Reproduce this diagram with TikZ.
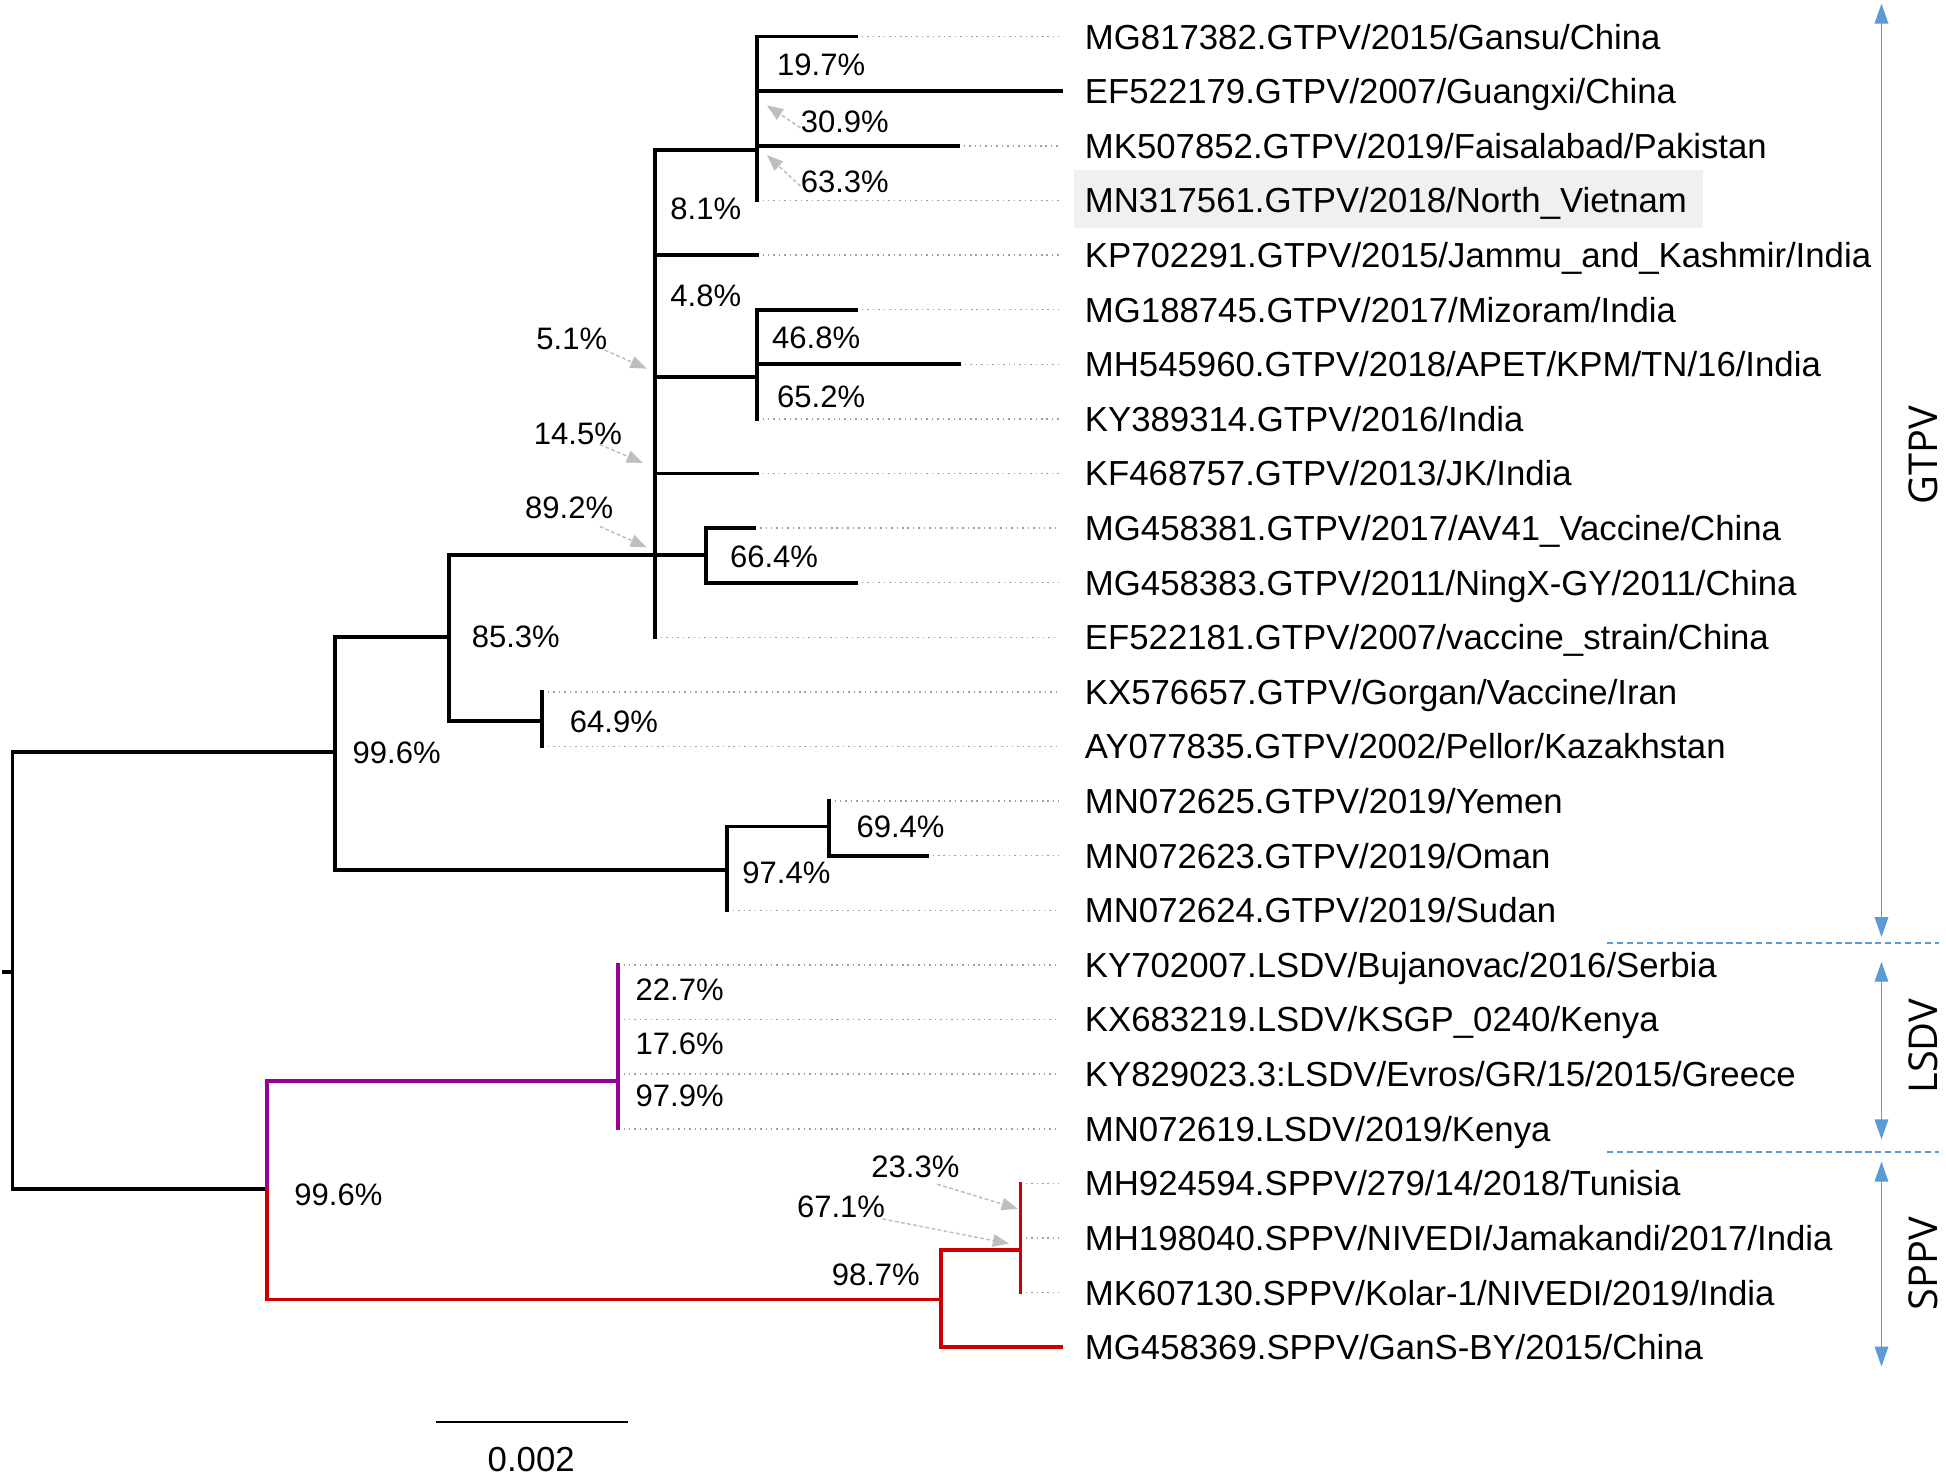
\documentclass[tikz,border=0pt]{standalone}
\usepackage{fontspec}
\setmainfont{Liberation Sans}
\newfontfamily\grpfont{Open Sans}
\usetikzlibrary{arrows.meta}
\definecolor{lsdvc}{RGB}{153,0,153}
\definecolor{sppvc}{RGB}{204,0,0}
\definecolor{grpblue}{RGB}{91,155,213}
\definecolor{hlgray}{RGB}{240,240,240}
\definecolor{bsgray}{RGB}{190,190,190}
\newcommand\leafrow[3]{%
  \node[leaf] (L#1) at (874,{29.5+44*#1}) {#3};
  \coordinate (T#1) at (#2,{29.5+44*#1});
  \draw[dotl] (T#1) -- ([xshift=-21pt]L#1.west);
}
\newcommand\leafsolid[2]{%
  \node[leaf] (L#1) at (874,{29.5+44*#1}) {#2};
}
\begin{document}
\begin{tikzpicture}[x=1pt,y=-1pt,
  br/.style={line width=3pt, line cap=rect, line join=miter},
  dotl/.style={draw=gray!75, line width=1.2pt, dash pattern=on 1.2pt off 3.2pt},
  leaf/.style={anchor=west, inner sep=0pt, font=\fontsize{28}{32}\selectfont, text height=20pt, text depth=0pt},
  bs/.style={anchor=west, inner sep=0pt, font=\fontsize{25}{29}\selectfont, text height=17.9pt, text depth=0pt},
  bsarr/.style={draw=bsgray, line width=1.2pt, dash pattern=on 3pt off 2pt, -{Triangle[length=13pt,width=10pt,fill=bsgray]}},
  grp/.style={draw=grpblue, line width=1pt, {Triangle[length=16pt,width=11pt]}-{Triangle[length=16pt,width=11pt]}},
  sepl/.style={draw=grpblue, line width=1.3pt, dash pattern=on 5pt off 3pt},
  grplab/.style={rotate=90, inner sep=0pt, text height=22pt, text depth=0pt, font=\grpfont\fontsize{32}{36}\selectfont},
  ]
\fill[white] (0,0) rectangle (1568,1189);
\useasboundingbox (0,0) rectangle (1568,1189);

% highlight
\fill[hlgray] (865,137) rectangle (1372,183.5);

% internal node coordinates
\coordinate (R0) at (3,783);
\coordinate (R1) at (10,783);
\coordinate (G) at (270,606);
\coordinate (E) at (362,513);
\coordinate (B) at (528,447);
\coordinate (A) at (610,121);
\coordinate (C) at (610,304);
\coordinate (D) at (569,447);
\coordinate (F) at (437,581);
\coordinate (H) at (586,701);
\coordinate (I) at (668,666);
\coordinate (J) at (215,958);
\coordinate (K) at (498,871);
\coordinate (Lc) at (758,1047);
\coordinate (M) at (822,1007);

% leaves
\leafrow{0}{690}{MG817382.GTPV/2015/Gansu/China}
\leafsolid{1}{EF522179.GTPV/2007/Guangxi/China}
\leafrow{2}{772}{MK507852.GTPV/2019/Faisalabad/Pakistan}
\leafrow{3}{610}{MN317561.GTPV/2018/North\_Vietnam}
\leafrow{4}{610}{KP702291.GTPV/2015/Jammu\_and\_Kashmir/India}
\leafrow{5}{690}{MG188745.GTPV/2017/Mizoram/India}
\leafrow{6}{773}{MH545960.GTPV/2018/APET/KPM/TN/16/India}
\leafrow{7}{610}{KY389314.GTPV/2016/India}
\leafrow{8}{610}{KF468757.GTPV/2013/JK/India}
\leafrow{9}{608}{MG458381.GTPV/2017/AV41\_Vaccine/China}
\leafrow{10}{690}{MG458383.GTPV/2011/NingX-GY/2011/China}
\leafrow{11}{528}{EF522181.GTPV/2007/vaccine\_strain/China}
\leafrow{12}{437}{KX576657.GTPV/Gorgan/Vaccine/Iran}
\leafrow{13}{437}{AY077835.GTPV/2002/Pellor/Kazakhstan}
\leafrow{14}{668}{MN072625.GTPV/2019/Yemen}
\leafrow{15}{747}{MN072623.GTPV/2019/Oman}
\leafrow{16}{586}{MN072624.GTPV/2019/Sudan}
\leafrow{17}{498}{KY702007.LSDV/Bujanovac/2016/Serbia}
\leafrow{18}{498}{KX683219.LSDV/KSGP\_0240/Kenya}
\leafrow{19}{498}{KY829023.3:LSDV/Evros/GR/15/2015/Greece}
\leafrow{20}{498}{MN072619.LSDV/2019/Kenya}
\leafrow{21}{822}{MH924594.SPPV/279/14/2018/Tunisia}
\leafrow{22}{822}{MH198040.SPPV/NIVEDI/Jamakandi/2017/India}
\leafrow{23}{822}{MK607130.SPPV/Kolar-1/NIVEDI/2019/India}
\leafsolid{24}{MG458369.SPPV/GanS-BY/2015/China}

% black branches
\draw[br] (R0) -- (R1);
\draw[br] (G) -- (R1 |- G) -- (R1 |- J) -- (J);
\draw[br] (E) -- (G |- E) -- (G |- H) -- (H);
\draw[br] (B) -- (E |- B) -- (E |- F) -- (F);
\draw[br] (F |- T12) -- (F |- T13);
\draw[br] (B |- A) -- (B |- T11);
\draw[br] (B |- A) -- (A);
\draw[br] (B |- T4) -- (T4);
\draw[br] (B |- C) -- (C);
\draw[br] (B |- T8) -- (T8);
\draw[br] (B) -- (D);
\draw[br] (A |- T0) -- (A |- T3);
\draw[br] (A |- T0) -- (T0);
\draw[br] (A |- L1) -- (855,73.5);
\draw[br] (A |- T2) -- (T2);
\draw[br] (C |- T5) -- (C |- T7);
\draw[br] (C |- T5) -- (T5);
\draw[br] (C |- T6) -- (T6);
\draw[br] (D |- T9) -- (D |- T10);
\draw[br] (D |- T9) -- (T9);
\draw[br] (D |- T10) -- (T10);
\draw[br] (H |- I) -- (I);
\draw[br] (H |- I) -- (H |- T16);
\draw[br] (I |- T14) -- (I |- T15);
\draw[br] (I |- T15) -- (T15);
% LSDV (purple)
\draw[br, lsdvc, line width=2.7pt] (J) -- (J |- K) -- (K);
\draw[br, lsdvc, line width=2.7pt] (K |- T17) -- (K |- T20);
% SPPV (red)
\draw[br, sppvc] (J) -- (J |- Lc) -- (Lc);
\draw[br, sppvc] (M) -- (Lc |- M) -- (Lc |- L24) -- (855,1085.5);
\draw[br, sppvc, line width=2.5pt] (M |- T21) -- (M |- T23);

% bootstrap labels
\node[bs] (p197) at (626,52) {19.7\%};
\node[bs] (p309) at (645,98) {30.9\%};
\node[bs] (p633) at (645,146) {63.3\%};
\node[bs] (p81) at (540,168) {8.1\%};
\node[bs] (p48) at (540,238) {4.8\%};
\node[bs] (p51) at (432,273) {5.1\%};
\node[bs] (p468) at (622,272) {46.8\%};
\node[bs] (p652) at (626,319) {65.2\%};
\node[bs] (p145) at (430,349) {14.5\%};
\node[bs] (p892) at (423,409) {89.2\%};
\node[bs] (p664) at (588,448) {66.4\%};
\node[bs] (p853) at (380,513) {85.3\%};
\node[bs] (p649) at (459,581) {64.9\%};
\node[bs] (p996a) at (284,606) {99.6\%};
\node[bs] (p694) at (690,666) {69.4\%};
\node[bs] (p974) at (598,703) {97.4\%};
\node[bs] (p227) at (512,797) {22.7\%};
\node[bs] (p176) at (512,841) {17.6\%};
\node[bs] (p979) at (512,883) {97.9\%};
\node[bs] (p996b) at (237,962) {99.6\%};
\node[bs] (p233) at (702,940) {23.3\%};
\node[bs] (p671) at (642,972) {67.1\%};
\node[bs] (p987) at (670,1027) {98.7\%};

% bootstrap pointer arrows
\coordinate (a309) at (618,85);
\coordinate (a633) at (618,125);
\coordinate (a51) at (521,297);
\coordinate (a145) at (518,373);
\coordinate (a892) at (521,441);
\coordinate (a233) at (820,974);
\coordinate (a671) at (813,1002);
\draw[bsarr] ([yshift=-5pt]p309.west) -- (a309);
\draw[bsarr] ([yshift=-4pt]p633.west) -- (a633);
\draw[bsarr] ([xshift=-2pt]p51.south east) -- (a51);
\draw[bsarr] ([xshift=-18pt]p145.south east) -- (a145);
\draw[bsarr] ([xshift=-11pt,yshift=-6pt]p892.south east) -- (a892);
\draw[bsarr] ([xshift=-18pt,yshift=-5pt]p233.south east) -- (a233);
\draw[bsarr] ([xshift=-2pt,yshift=-1pt]p671.south east) -- (a671);

% scale bar
\coordinate (s0) at (351,1146);
\coordinate (s1) at (506,1146);
\draw[line width=1.6pt] (s0) -- (s1);
\node[font=\fontsize{28}{32}\selectfont, inner sep=0pt] (sb) at (428,1176) {0.002};

% group annotations
\coordinate (g0) at (1516,3);
\coordinate (g1) at (1516,755);
\coordinate (l0) at (1516,775);
\coordinate (l1) at (1516,918);
\coordinate (s0a) at (1516,936);
\coordinate (s1a) at (1516,1101);
\draw[grp] (g0) -- (g1);
\draw[grp] (l0) -- (l1);
\draw[grp] (s0a) -- (s1a);
\coordinate (d0) at (1295,760);
\coordinate (d1) at (1562,760);
\coordinate (e0) at (1295,928);
\coordinate (e1) at (1562,928);
\draw[sepl] (d0) -- (d1);
\draw[sepl] (e0) -- (e1);
\node[grplab] (gtpv) at (1550,367) {GTPV};
\node[grplab] (lsdv) at (1550,843) {LSDV};
\node[grplab] (sppv) at (1550,1018) {SPPV};
\end{tikzpicture}
\end{document}
